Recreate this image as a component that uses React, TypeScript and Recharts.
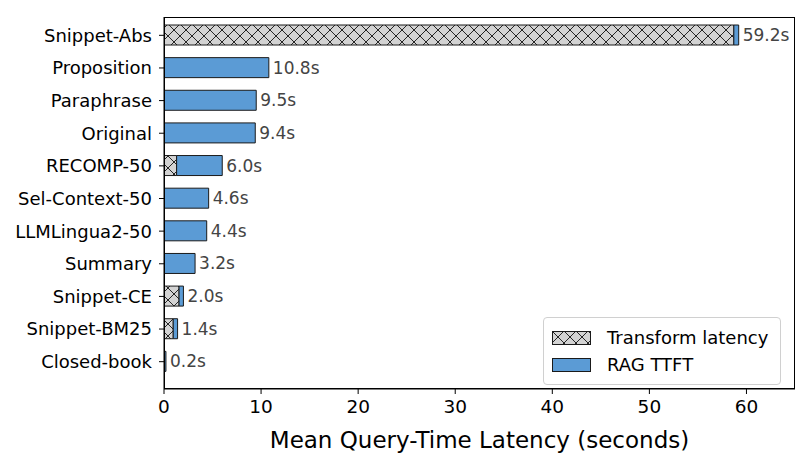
import React from 'react';
import { BarChart, Bar, XAxis, YAxis, LabelList } from 'recharts';

const methods = [
  'Snippet-Abs',
  'Proposition',
  'Paraphrase',
  'Original',
  'RECOMP-50',
  'Sel-Context-50',
  'LLMLingua2-50',
  'Summary',
  'Snippet-CE',
  'Snippet-BM25',
  'Closed-book',
];
const transformLatency = [58.7, 0, 0, 0, 1.3, 0, 0, 0, 1.55, 0.95, 0];
const ragTtft = [0.5, 10.8, 9.5, 9.4, 4.7, 4.6, 4.4, 3.2, 0.45, 0.45, 0.2];
const totals = [59.2, 10.8, 9.5, 9.4, 6.0, 4.6, 4.4, 3.2, 2.0, 1.4, 0.2];
const xTicks = [0, 10, 20, 30, 40, 50, 60];

const data = methods.map((name, i) => ({
  name,
  transform: transformLatency[i],
  ttft: ragTtft[i],
  total: totals[i],
}));

const FONT = '"DejaVu Sans", sans-serif';
const BLUE = '#5b9bd5';
const EDGE = '#1a1a1a';

// plot box, matches the chart margins below
const PLOT = { left: 164, top: 17, right: 795, bottom: 389 };

function LegendBox() {
  const row = { display: 'flex', alignItems: 'center', height: 27 } as const;
  return (
    <div
      style={{
        position: 'absolute',
        left: 543,
        top: 317,
        width: 238,
        height: 68,
        border: '1px solid #d0d0d0',
        borderRadius: 4,
        background: 'rgba(255,255,255,0.8)',
        padding: '6px 0 0 8px',
        fontFamily: FONT,
        fontSize: 18,
        color: '#000',
        boxSizing: 'border-box',
      }}
    >
      <div style={row}>
        <svg width={39} height={14} style={{ marginRight: 16 }}>
          <rect x={0.5} y={0.5} width={38} height={13} fill="url(#xhatch)" stroke={EDGE} />
        </svg>
        Transform latency
      </div>
      <div style={row}>
        <svg width={39} height={14} style={{ marginRight: 16 }}>
          <rect x={0.5} y={0.5} width={38} height={13} fill={BLUE} stroke={EDGE} />
        </svg>
        RAG TTFT
      </div>
    </div>
  );
}

export default function App() {
  return (
    <div style={{ position: 'absolute', left: 0, top: 0, width: 801, height: 458, background: '#fff' }}>
      <BarChart
        width={801}
        height={458}
        data={data}
        layout="vertical"
        margin={{ top: PLOT.top, right: 801 - PLOT.right, left: 0, bottom: 0 }}
      >
        <defs>
          <pattern id="xhatch" width={12} height={12} patternUnits="userSpaceOnUse">
            <rect width={12} height={12} fill="#d3d3d3" />
            <path d="M0,0 L12,12 M0,12 L12,0" stroke="#111" strokeWidth={0.9} />
          </pattern>
        </defs>
        <XAxis
          type="number"
          domain={[0, 65]}
          ticks={xTicks}
          allowDataOverflow
          height={458 - PLOT.bottom}
          stroke="#000"
          tick={{ fill: '#000', fontSize: 18.5, fontFamily: FONT }}
          tickSize={5}
          tickMargin={6}
          label={{
            value: 'Mean Query-Time Latency (seconds)',
            position: 'insideBottom',
            offset: 10,
            style: { fontSize: 23, fontFamily: FONT, fill: '#000' },
          }}
        />
        <YAxis
          type="category"
          dataKey="name"
          width={PLOT.left}
          stroke="#000"
          padding={{ top: 2, bottom: 11 }}
          tick={{ fill: '#000', fontSize: 18, fontFamily: FONT }}
          tickSize={5}
          tickMargin={7}
          interval={0}
        />
        <Bar
          dataKey="transform"
          name="Transform latency"
          stackId="a"
          fill="url(#xhatch)"
          stroke={EDGE}
          strokeWidth={1}
          barSize={20}
          isAnimationActive={false}
        />
        <Bar
          dataKey="ttft"
          name="RAG TTFT"
          stackId="a"
          fill={BLUE}
          stroke={EDGE}
          strokeWidth={1}
          barSize={20}
          isAnimationActive={false}
        >
          <LabelList
            dataKey="total"
            position="right"
            offset={4}
            formatter={(v: any) => `${Number(v).toFixed(1)}s`}
            style={{ fill: '#444', fontSize: 17, fontFamily: FONT }}
          />
        </Bar>
      </BarChart>
      <div
        style={{
          position: 'absolute',
          left: PLOT.left,
          top: PLOT.top,
          width: PLOT.right - PLOT.left,
          height: PLOT.bottom - PLOT.top,
          border: '1px solid #000',
          boxSizing: 'border-box',
          pointerEvents: 'none',
        }}
      />
      <LegendBox />
    </div>
  );
}
